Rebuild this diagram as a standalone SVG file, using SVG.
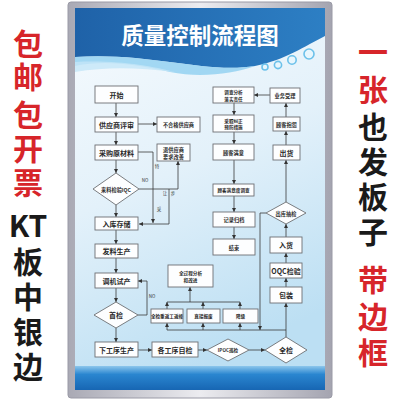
<svg xmlns="http://www.w3.org/2000/svg" width="400" height="400" viewBox="0 0 400 400">
<defs>
<linearGradient id="board" x1="0" y1="0" x2="0.3" y2="1">
<stop offset="0" stop-color="#f7fbfe"/>
<stop offset="0.5" stop-color="#e3f1fa"/>
<stop offset="1" stop-color="#bcdff3"/>
</linearGradient>
<linearGradient id="hdr" x1="0" y1="0" x2="1" y2="0">
<stop offset="0" stop-color="#1f62a8"/>
<stop offset="1" stop-color="#2d7fc4"/>
</linearGradient>
<linearGradient id="foot" x1="0" y1="0" x2="0" y2="1">
<stop offset="0" stop-color="#8cc6ec"/>
<stop offset="0.35" stop-color="#2a86d0"/>
<stop offset="1" stop-color="#1766b3"/>
</linearGradient>
<linearGradient id="frame" x1="0" y1="0" x2="1" y2="0">
<stop offset="0" stop-color="#a9a9b4"/>
<stop offset="0.5" stop-color="#ececf0"/>
<stop offset="1" stop-color="#a4a4b0"/>
</linearGradient>
<marker id="ah" viewBox="0 0 6 6" refX="6" refY="3" markerWidth="4" markerHeight="4" markerUnits="userSpaceOnUse" orient="auto">
<path d="M0,0 L6,3 L0,6 Z" fill="#333"/>
</marker>
<style>
.side{font-family:"Noto Sans CJK SC","Noto Sans",sans-serif;font-weight:bold;font-size:30px;text-anchor:middle}
.v{writing-mode:vertical-rl;text-anchor:start}
.red{fill:#d7252a}
.blk{fill:#1a1a1a}
.box{fill:#fdfeff;stroke:#6d6f73;stroke-width:0.9}
.t{font-family:"Noto Sans CJK SC",sans-serif;font-weight:bold;font-size:7px;fill:#2a2a2a;text-anchor:middle;dominant-baseline:central}
.s{font-size:5.2px}
.xs{font-size:4.6px}
.lbl{font-family:"Noto Sans CJK SC",sans-serif;font-size:4.5px;fill:#333;text-anchor:middle;dominant-baseline:central}
.ln{fill:none;stroke:#3a3a3a;stroke-width:0.8}
.ar{marker-end:url(#ah)}
</style>
</defs>
<rect width="400" height="400" fill="#ffffff"/>

<!-- side texts -->
<g id="left-text">
<text class="side red v" x="28" y="29" letter-spacing="3">包邮</text>
<text class="side red v" x="28" y="100" letter-spacing="4">包开票</text>
<text class="side blk" x="28" y="237">KT</text>
<text class="side blk v" x="28" y="247" letter-spacing="5">板中银边</text>
</g>
<g id="right-text">
<text class="side red v" x="373" y="37" letter-spacing="8">一张</text>
<text class="side blk v" x="373" y="112" letter-spacing="5">也发板子</text>
<text class="side red v" x="373" y="265" letter-spacing="6.5">带边框</text>
</g>

<!-- frame and board -->
<g id="board-frame">
<rect x="68" y="2" width="264" height="396" rx="3" fill="url(#frame)" stroke="#9a9aa6" stroke-width="1"/>
<rect x="75" y="8" width="250" height="382" fill="url(#board)"/>
<path d="M75,8 H325 V36 C305,46 285,60 255,66 C205,74 150,52 75,57 Z" fill="url(#hdr)"/>
<path d="M75,57 C150,52 205,74 255,66 C232,74 200,78 170,72 C135,64 105,60 75,66 Z" fill="#8fd0f0" opacity="0.8"/>
<path d="M75,62 C120,60 150,66 175,72 C140,68 110,66 75,72 Z" fill="#c4e6f7" opacity="0.8"/>
<g fill="#e8f6fd" stroke="#6cc1ea" stroke-width="1.6">
<circle cx="265" cy="67" r="3"/>
<circle cx="278" cy="65" r="3.6"/>
<circle cx="292" cy="60" r="4.2"/>
<circle cx="309" cy="54" r="5"/>
</g>
<text x="200" y="44" font-family="Noto Sans CJK SC,sans-serif" font-weight="bold" font-size="22.5" fill="#ffffff" text-anchor="middle">质量控制流程图</text>
<rect x="75" y="366" width="250" height="24" fill="url(#foot)"/>
</g>

<!-- connectors -->
<g id="connectors">
<path class="ln ar" d="M116,103 V117"/>
<path class="ln ar" d="M138,124 H157"/>
<path class="ln ar" d="M116,132 V145"/>
<path class="ln ar" d="M116,160 V173"/>
<path class="ln ar" d="M138,152 H153 V223"/>
<path class="ln ar" d="M169,189 V224 H139"/>
<path class="ln ar" d="M139,189 H178 V161"/>
<path class="ln ar" d="M116,205 V217"/>
<path class="ln ar" d="M116,230 V244"/>
<path class="ln ar" d="M116,258 V273"/>
<path class="ln ar" d="M116,288 V302"/>
<path class="ln ar" d="M138,315 H147 V281 H138"/>
<path class="ln ar" d="M116,328 V342"/>
<path class="ln ar" d="M138,350 H152"/>
<path class="ln ar" d="M198,350 H207"/>
<path class="ln ar" d="M249,350 H265"/>
<path class="ln ar" d="M286,337 V303"/>
<path class="ln ar" d="M286,287 V278"/>
<path class="ln ar" d="M286,263 V253"/>
<path class="ln ar" d="M286,237 V224"/>
<path class="ln ar" d="M286,202 V160"/>
<path class="ln ar" d="M286,145 V131"/>
<path class="ln ar" d="M286,117 V103"/>
<path class="ln ar" d="M270,95 H254"/>
<path class="ln ar" d="M234,103 V115"/>
<path class="ln ar" d="M234,132 V144"/>
<path class="ln ar" d="M234,160 V184"/>
<path class="ln ar" d="M234,196 V212"/>
<path class="ln ar" d="M234,227 V239"/>
<path class="ln ar" d="M266,213 H260 V330"/>
<path class="ln" d="M286,330 H167"/>
<path class="ln ar" d="M167,330 V323"/>
<path class="ln ar" d="M203,330 V323"/>
<path class="ln ar" d="M240,330 V323"/>
<path class="ln ar" d="M167,309 V302"/>
<path class="ln ar" d="M203,309 V302"/>
<path class="ln ar" d="M240,309 V302"/>
<path class="ln" d="M167,302 H240"/>
<path class="ln ar" d="M190,302 V287"/>
<text class="lbl" x="145" y="180">NO</text>
<text class="lbl" x="157" y="166">特</text>
<text class="lbl" x="159" y="209">采</text>
<text class="lbl" x="165" y="193">让</text>
<text class="lbl" x="173" y="193">步</text>
<text class="lbl" x="152" y="296">NO</text>
</g>

<!-- nodes -->
<g id="n-start"><rect class="box" x="95" y="86" width="43" height="17"/><text class="t" x="116.5" y="94.5">开始</text></g>
<g id="n-supplier-review"><rect class="box" x="95" y="117" width="43" height="15"/><text class="t" x="116.5" y="124.5">供应商评审</text></g>
<g id="n-unqualified"><rect class="box" x="157" y="117" width="43" height="15"/><text class="t s" x="178.5" y="124.5">不合格供应商</text></g>
<g id="n-purchase"><rect class="box" x="95" y="145" width="43" height="15"/><text class="t" x="116.5" y="152.5">采购原材料</text></g>
<g id="n-return"><rect class="box" x="157" y="144" width="33" height="17"/><text class="t s" x="173.5" y="149.5">退供应商</text><text class="t s" x="173.5" y="156">要求改善</text></g>
<g id="n-iqc"><path class="box" d="M116,173 L139,189 L116,205 L93,189 Z"/><text class="t s" x="116" y="189">来料检验IQC</text></g>
<g id="n-storage"><rect class="box" x="95" y="217" width="43" height="13"/><text class="t" x="116.5" y="223.5">入库存储</text></g>
<g id="n-issue"><rect class="box" x="95" y="244" width="43" height="14"/><text class="t" x="116.5" y="251">发料生产</text></g>
<g id="n-trial"><rect class="box" x="95" y="273" width="43" height="15"/><text class="t" x="116.5" y="280.5">调机试产</text></g>
<g id="n-first"><path class="box" d="M116,302 L138,315 L116,328 L94,315 Z"/><text class="t" x="116" y="315">首检</text></g>
<g id="n-next"><rect class="box" x="95" y="342" width="43" height="15"/><text class="t" x="116.5" y="349.5">下工序生产</text></g>
<g id="n-self"><rect class="box" x="152" y="342" width="46" height="15"/><text class="t" x="175" y="349.5">各工序自检</text></g>
<g id="n-ipqc"><path class="box" d="M228,339 L249,350 L228,361 L207,350 Z"/><text class="t xs" x="228" y="350">IPOC巡检</text></g>
<g id="n-full"><path class="box" d="M286,337 L307,350 L286,363 L265,350 Z"/><text class="t" x="286" y="350">全检</text></g>
<g id="n-pack"><rect class="box" x="270" y="287" width="32" height="16"/><text class="t" x="286" y="295">包装</text></g>
<g id="n-oqc"><rect class="box" x="270" y="263" width="32" height="15"/><text class="t" x="286" y="270.5">OQC检验</text></g>
<g id="n-in"><rect class="box" x="270" y="237" width="32" height="16"/><text class="t" x="286" y="245">入货</text></g>
<g id="n-outcheck"><path class="box" d="M286,202 L306,213 L286,224 L266,213 Z"/><text class="t s" x="286" y="213">出库抽检</text></g>
<g id="n-ship"><rect class="box" x="273" y="145" width="27" height="15"/><text class="t" x="286.5" y="152.5">出货</text></g>
<g id="n-complaint"><rect class="box" x="273" y="117" width="27" height="14"/><text class="t s" x="286.5" y="124">顾客抱怨</text></g>
<g id="n-accept"><rect class="box" x="270" y="88" width="30" height="15"/><text class="t s" x="285" y="95.5">业务受理</text></g>
<g id="n-investigate"><rect class="box" x="213" y="87" width="41" height="16"/><text class="t xs" x="233.5" y="92">调查分析</text><text class="t xs" x="233.5" y="98.5">落实责任</text></g>
<g id="n-corrective"><rect class="box" x="213" y="115" width="41" height="17"/><text class="t xs" x="233.5" y="120.5">采取纠正</text><text class="t xs" x="233.5" y="127">预防措施</text></g>
<g id="n-satisfy"><rect class="box" x="213" y="144" width="41" height="16"/><text class="t s" x="233.5" y="152">顾客满意</text></g>
<g id="n-survey"><rect class="box" x="213" y="184" width="41" height="12"/><text class="t xs" x="233.5" y="190">顾客满意度调查</text></g>
<g id="n-record"><rect class="box" x="213" y="212" width="42" height="15"/><text class="t s" x="234" y="219.5">记录归档</text></g>
<g id="n-end"><rect class="box" x="213" y="239" width="42" height="16"/><text class="t s" x="234" y="247">结束</text></g>
<g id="n-analysis"><rect class="box" x="168" y="265" width="45" height="22"/><text class="t xs" x="190.5" y="272.5">全过程分析</text><text class="t xs" x="190.5" y="279.5">和改进</text></g>
<g id="n-rework"><rect class="box" x="151" y="309" width="32" height="14"/><text class="t xs" x="167" y="316">全检重返工返修</text></g>
<g id="n-scrap"><rect class="box" x="187" y="309" width="33" height="14"/><text class="t xs" x="203.5" y="316">直接报废</text></g>
<g id="n-downgrade"><rect class="box" x="223" y="309" width="35" height="14"/><text class="t xs" x="240.5" y="316">降级</text></g>
</svg>
